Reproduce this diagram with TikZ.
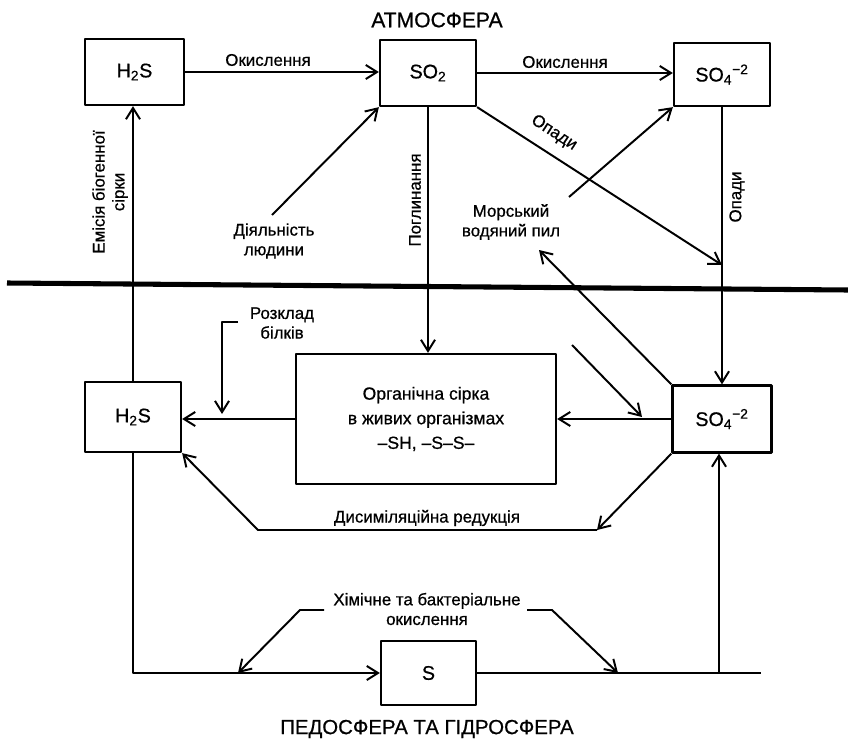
\documentclass[tikz,border=0pt]{standalone}
\usepackage{fontspec}
\setmainfont{Liberation Sans}[FakeBold=0.7]
\usetikzlibrary{arrows.meta,calc}

\begin{document}
\begin{tikzpicture}[x=0.025cm,y=-0.025cm,>={Straight Barb[length=8pt,width=10pt]},line join=round,
  box/.style={draw,line width=1.6pt,inner sep=0pt,font=\fontsize{14}{16}\selectfont},
  flow/.style={->,line width=1.4pt},
  lbl/.style={font=\fontsize{12}{14}\selectfont,align=center,inner sep=1pt}]
  \useasboundingbox (0,0) rectangle (848,742);
  % boxes
  \node[box,minimum width=2.475cm,minimum height=1.65cm] (h2sT) at (134.5,72) {H\textsubscript{2}S};
  \node[box,minimum width=2.4cm,minimum height=1.65cm] (so2) at (428,73) {SO\textsubscript{2}};
  \node[box,minimum width=2.4cm,minimum height=1.575cm] (so4T) at (722,74.5) {SO\textsubscript{4}\textsuperscript{−2}};
  \node[box,minimum width=2.4cm,minimum height=1.75cm] (h2sB) at (133,417) {H\textsubscript{2}S};
  \node[box,minimum width=6.5cm,minimum height=3.25cm,align=center,font=\fontsize{12.5}{17.5}\selectfont] (org) at (426,419)
    {Органічна сірка\\в живих організмах\\–SH, –S–S–};
  \node[box,minimum width=2.475cm,minimum height=1.675cm] (so4B) at (722,419) {SO\textsubscript{4}\textsuperscript{−2}};
  \node[box,minimum width=2.375cm,minimum height=1.6cm] (s) at (428.5,673) {S};
  % free ends
  \coordinate (bndL) at (7,283);
  \coordinate (bndR) at (848,290);
  \coordinate (dialS) at (272,215);
  \coordinate (opadyE) at (722,265);
  \coordinate (morS) at (569,197);
  \coordinate (morE) at (539,250);
  \coordinate (sideS) at (572,345);
  \coordinate (sideE) at (642,417);
  \coordinate (rozkS) at (238,322);
  \coordinate (rozkM) at (222,322);
  \coordinate (rozkE) at (222,414);
  \coordinate (disR) at (597,530);
  \coordinate (disL) at (258,530);
  \coordinate (botR) at (761,673);
  \coordinate (upB) at (719,673);
  \coordinate (chemL) at (324,610);
  \coordinate (chemLM) at (300,610);
  \coordinate (chemLE) at (238,673);
  \coordinate (chemR) at (527,610);
  \coordinate (chemRM) at (552,610);
  \coordinate (chemRE) at (618,673);
  % boundary
  \draw[line width=3.6pt] (bndL) -- (bndR);
  % atmosphere
  \draw[flow] (h2sT.east) -- (h2sT.east -| so2.west);
  \draw[flow] (so2.east) -- (so2.east -| so4T.west);
  \draw[flow] (h2sB.north) -- (h2sB.north |- h2sT.south);
  \draw[flow] (dialS) -- (so2.south west);
  \draw[flow] (so2.south) -- (so2.south |- org.north);
  \draw[flow] (so2.south east) -- (opadyE);
  \draw[flow] (morS) -- (so4T.south west);
  \draw[flow] (so4T.south) -- (so4B.north);
  \draw[flow] (so4B.north west) -- (morE);
  % living matter
  \draw[flow] (so4B.west) -- (org.east);
  \draw[flow] (sideS) -- (sideE);
  \draw[flow] (org.west) -- (org.west -| h2sB.east);
  \draw[flow] (rozkS) -- (rozkM) -- (rozkE);
  \draw[flow] (so4B.south west) -- (disR);
  \draw[flow] (disR) -- (disL) -- (h2sB.south east);
  % soil and water
  \draw[flow] (h2sB.south) |- (s.west);
  \draw[line width=1.4pt] (s.east) -- (botR);
  \draw[flow] (upB) -- (upB |- so4B.south);
  \draw[flow] (chemL) -- (chemLM) -- (chemLE);
  \draw[flow] (chemR) -- (chemRM) -- (chemRE);
  % labels
  \node[font=\fontsize{15}{17}\selectfont] (atm) at (437,20) {АТМОСФЕРА};
  \node[font=\fontsize{14.5}{17}\selectfont] (ped) at (427,729) {ПЕДОСФЕРА ТА ГІДРОСФЕРА};
  \node[lbl] (ok1) at (268,60) {Окислення};
  \node[lbl] (ok2) at (565,62) {Окислення};
  \node[lbl,rotate=90] (emis) at (110,192) {Емісія біогенної\\сірки};
  \node[lbl] (dial) at (274,241) {Діяльність\\людини};
  \node[lbl,rotate=90] (pogl) at (415,200) {Поглинання};
  \node[lbl,rotate=-33] (opady1) at (554,133) {Опади};
  \node[lbl] (mor) at (511,222) {Морський\\водяний пил};
  \node[lbl,rotate=90] (opady2) at (737,197) {Опади};
  \node[lbl] (rozk) at (282,323) {Розклад\\білків};
  \node[lbl] (dis) at (427,518) {Дисиміляційна редукція};
  \node[lbl] (chem) at (427,609) {Хімічне та бактеріальне\\окислення};
\end{tikzpicture}
\end{document}
